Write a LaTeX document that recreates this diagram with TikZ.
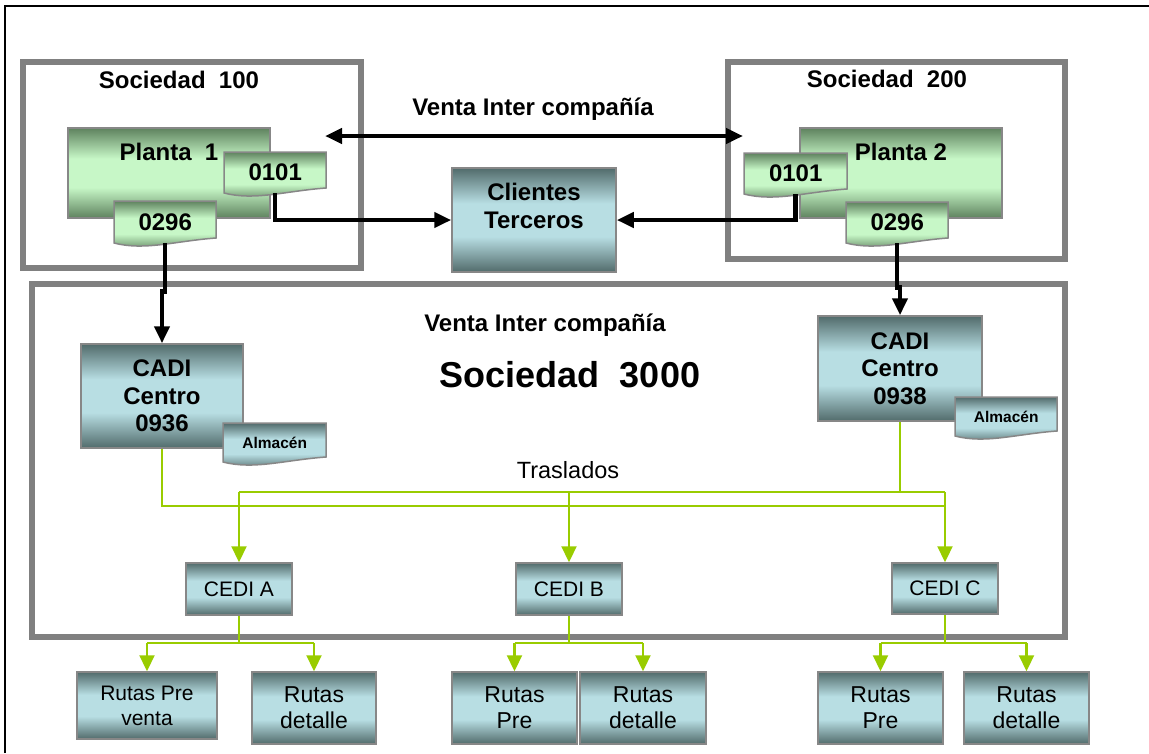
\documentclass[tikz,border=0pt]{standalone}
\usepackage{fontspec}
\setmainfont{Liberation Sans}
\usetikzlibrary{arrows.meta}

% vertical fills: dark edge, light middle, dark edge
\pgfdeclareverticalshading{tealsh}{100bp}{rgb(0bp)=(0.32,0.42,0.42); rgb(25bp)=(0.32,0.42,0.42); rgb(42bp)=(0.72,0.87,0.89); rgb(58bp)=(0.72,0.87,0.89); rgb(75bp)=(0.32,0.42,0.42); rgb(100bp)=(0.32,0.42,0.42)}
\pgfdeclareverticalshading{greensh}{100bp}{rgb(0bp)=(0.37,0.51,0.37); rgb(25bp)=(0.37,0.51,0.37); rgb(42bp)=(0.78,0.97,0.78); rgb(58bp)=(0.78,0.97,0.78); rgb(75bp)=(0.37,0.51,0.37); rgb(100bp)=(0.37,0.51,0.37)}

\definecolor{framegray}{RGB}{128,128,128}
\definecolor{boxgray}{RGB}{135,135,135}
\definecolor{trasgreen}{RGB}{153,204,0}

\tikzset{
  frame/.style={draw=framegray, line width=6pt},
  tealbox/.style={shade, shading=tealsh, draw=boxgray, line width=1.5pt, inner sep=0pt},
  greenbox/.style={shade, shading=greensh, draw=boxgray, line width=1.5pt, inner sep=0pt},
  tealdoc/.style={shade, shading=tealsh, draw=boxgray, line width=1.5pt},
  greendoc/.style={shade, shading=greensh, draw=boxgray, line width=1.5pt},
  boldtxt/.style={font=\fontsize{24}{28}\selectfont\bfseries, align=center, inner sep=0pt},
  smallbold/.style={font=\fontsize{15.5}{18}\selectfont\bfseries},
  regtxt/.style={font=\fontsize{23}{26}\selectfont, align=center},
  cedtxt/.style={font=\fontsize{21}{25}\selectfont, align=center},
  blk/.style={draw=black, line width=4.5pt},
  blkarrow/.style={blk, -{Triangle[length=17pt,width=15pt]}},
  grn/.style={draw=trasgreen, line width=2.2pt},
  grnarrow/.style={grn, -{Triangle[length=16pt,width=15pt]}},
}

% document symbol with a wavy lower edge: name, x, y, width, height, fill style, text style, text
\newcommand\docshape[8]{%
  \path[#6] (#2,#3) -- ({#2+#4},#3) -- ({#2+#4},{#3+#5-5})
    .. controls ({#2+0.6*#4},{#3+#5-2}) and ({#2+0.3*#4},{#3+#5+8}) .. (#2,{#3+#5}) -- cycle;
  \node[anchor=north west, inner sep=0pt, minimum width=#4pt, minimum height=#5pt, #7] (#1) at (#2,#3) {#8};
}

\begin{document}
\begin{tikzpicture}[x=1pt, y=-1pt]
\useasboundingbox (0,0) rectangle (1149,753);

% outer page rule
\draw[black, line width=2pt] (5,753) -- (5,6) -- (1149,6);

% company frames
\draw[frame] (23,62) rectangle (361,268);
\draw[frame] (728,62) rectangle (1065,259);
\draw[frame] (32,284) rectangle (1065,637);

\node[boldtxt] (t100) at (179,80) {Sociedad\ \ 100};
\node[boldtxt] (t200) at (887,79) {Sociedad\ \ 200};
\node[boldtxt] (venta1) at (533,109) {Venta Inter compañía};
\node[boldtxt] (venta2) at (545,325) {Venta Inter compañía};
\node[font=\fontsize{36}{40}\selectfont\bfseries] (t3000) at (570,375) {Sociedad\ \ 3000};
\node[regtxt, font=\fontsize{23.5}{26}\selectfont] (tras) at (568,470) {Traslados};

% plants
\node[greenbox, minimum width=202pt, minimum height=90pt] (p1) at (169,173) {};
\node[boldtxt] (p1t) at (169,152) {Planta\ \ 1};
\node[greenbox, minimum width=202pt, minimum height=90pt] (p2) at (901,173) {};
\node[boldtxt] (p2t) at (901,152) {Planta 2};

\docshape{da1}{224}{152}{102}{41}{greendoc}{boldtxt}{0101}
\docshape{da2}{114}{201}{102}{42}{greendoc}{boldtxt}{0296}
\docshape{db1}{744}{153}{103}{41}{greendoc}{boldtxt}{0101}
\docshape{db2}{846}{202}{102}{41}{greendoc}{boldtxt}{0296}

% third-party customers
\node[tealbox, minimum width=164pt, minimum height=104pt] (cli) at (534,220) {};
\node[boldtxt, font=\fontsize{24}{28}\selectfont\bfseries] (clit) at (534,206) {Clientes\\Terceros};

% distribution centres
\node[tealbox, minimum width=162pt, minimum height=104pt, boldtxt, font=\fontsize{24}{27.5}\selectfont\bfseries] (cadi1) at (162,396) {CADI\\Centro\\0936};
\node[tealbox, minimum width=164pt, minimum height=105pt, boldtxt, font=\fontsize{24}{27.5}\selectfont\bfseries] (cadi2) at (900,368.5) {CADI\\Centro\\0938};
\docshape{alm1}{223}{423}{103}{39}{tealdoc}{smallbold}{Almacén}
\docshape{alm2}{955}{397}{102}{39}{tealdoc}{smallbold}{Almacén}

\node[tealbox, minimum width=106pt, minimum height=52pt, cedtxt] (ceda) at (239,589) {CEDI A};
\node[tealbox, minimum width=106pt, minimum height=52pt, cedtxt] (cedb) at (569,589) {CEDI B};
\node[tealbox, minimum width=106pt, minimum height=51pt, cedtxt] (cedc) at (945,588.5) {CEDI C};

% routes
\node[tealbox, minimum width=140pt, minimum height=67pt, cedtxt] (ra1) at (147,705.5) {Rutas Pre\\venta};
\node[tealbox, minimum width=124pt, minimum height=72pt, regtxt] (ra2) at (314,708) {Rutas\\detalle};
\node[tealbox, minimum width=125pt, minimum height=72pt, regtxt] (rb1) at (514.5,708) {Rutas\\Pre};
\node[tealbox, minimum width=126pt, minimum height=72pt, regtxt] (rb2) at (643,708) {Rutas\\detalle};
\node[tealbox, minimum width=125pt, minimum height=72pt, regtxt] (rc1) at (880.5,708) {Rutas\\Pre};
\node[tealbox, minimum width=125pt, minimum height=72pt, regtxt] (rc2) at (1026.5,708) {Rutas\\detalle};

% intercompany sale between plants
\coordinate (vl) at (325,136);
\coordinate (vr) at (743,136);
\draw[blk, {Triangle[length=17pt,width=15pt]}-{Triangle[length=17pt,width=15pt]}] (vl) -- (vr);

% sales to third parties
\draw[blkarrow] (da1.south) |- (cli.west);
\draw[blkarrow] (db1.south) |- (cli.east);

% supply to the distribution centres
\draw[blkarrow] (da2.south) -- ++(0,48) -| (cadi1.north);
\draw[blkarrow] (db2.south) -- ++(0,44) -| (cadi2.north);

% transfers
\coordinate (busu) at (0,492);
\coordinate (busl) at (0,506);
\draw[grn] (cadi1.south) |- (cedc.north |- busl);
\draw[grn] (cadi2.south) -- (cadi2.south |- busu);
\draw[grn] (ceda.north |- busu) -- (cedc.north |- busu);
\draw[grnarrow] (ceda.north |- busu) -- (ceda.north);
\draw[grnarrow] (cedb.north |- busu) -- (cedb.north);
\draw[grnarrow] (cedc.north |- busu) -- (cedc.north);

% routes fed by each CEDI
\coordinate (brr) at (0,643);
\foreach \c/\l/\r in {ceda/ra1/ra2, cedb/rb1/rb2, cedc/rc1/rc2} {
  \draw[grn] (\c.south) -- (\c.south |- brr);
  \draw[grn] (\l.north |- brr) -- (\r.north |- brr);
  \draw[grnarrow] (\l.north |- brr) -- (\l.north);
  \draw[grnarrow] (\r.north |- brr) -- (\r.north);
}
\end{tikzpicture}
\end{document}
